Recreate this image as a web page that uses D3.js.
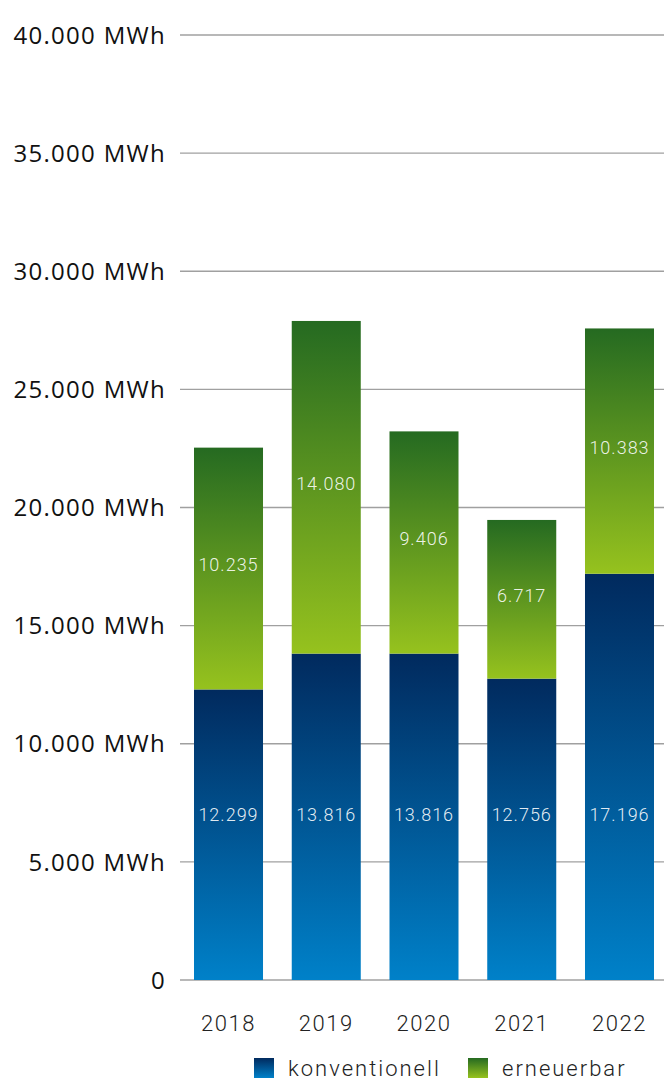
<html>
<head>
<script src="https://d3js.org/d3.v7.min.js"></script>
<style>
  body { margin: 0; background: #fff; }
  .grid line { stroke: #a0a0a0; stroke-width: 1.3px; }
  .ylab { font-family: "Open Sans", sans-serif; font-size: 24px; fill: #111; letter-spacing: 1.3px; }
  .xlab { font-family: Roboto, sans-serif; font-weight: 300; font-size: 22px; fill: #222; letter-spacing: 1.5px; }
  .val { font-family: Roboto, sans-serif; font-weight: 300; font-size: 18px; fill: #fff; fill-opacity: 0.9; letter-spacing: 1px; }
  .leg { font-family: Roboto, sans-serif; font-weight: 300; font-size: 22px; fill: #222; letter-spacing: 2px; }
</style>
</head>
<body>
<svg width="664" height="1080" id="chart"></svg>
<script>
// data
var years = ["2018", "2019", "2020", "2021", "2022"];
var konventionell = [12299, 13816, 13816, 12756, 17196];
var erneuerbar = [10235, 14080, 9406, 6717, 10383];
var yTicks = [0, 5000, 10000, 15000, 20000, 25000, 30000, 35000, 40000];
var seriesNames = ["konventionell", "erneuerbar"];

var svg = d3.select("#chart");
var fmt = d3.formatLocale({decimal: ",", thousands: ".", grouping: [3], currency: ["", ""]}).format(",d");

var y = d3.scaleLinear().domain([0, 40000]).range([980, 35]);
var x = d3.scaleBand().domain(years).range([194, 654]).paddingInner(0.294).paddingOuter(0);

// gradients
var defs = svg.append("defs");
function grad(id, top, bottom) {
  var g = defs.append("linearGradient").attr("id", id)
    .attr("x1", 0).attr("y1", 0).attr("x2", 0).attr("y2", 1);
  g.append("stop").attr("offset", "0%").attr("stop-color", top);
  g.append("stop").attr("offset", "100%").attr("stop-color", bottom);
}
grad("gBlue", "#012a5e", "#0081c9");
grad("gGreen", "#256a21", "#96c21e");

// grid lines
var grid = svg.append("g").attr("class", "grid");
grid.selectAll("line").data(yTicks).enter().append("line")
  .attr("x1", 180).attr("x2", 664)
  .attr("y1", d => y(d)).attr("y2", d => y(d));

svg.selectAll(".ylab").data(yTicks).enter().append("text")
  .attr("class", "ylab")
  .attr("x", 166).attr("y", d => y(d))
  .attr("dy", "0.36em")
  .attr("text-anchor", "end")
  .text(d => d === 0 ? "0" : fmt(d) + " MWh");

var rows = years.map((yr, i) => ({year: yr, k: konventionell[i], e: erneuerbar[i]}));

// konventionell bars
svg.selectAll(".bk").data(rows).enter().append("rect")
  .attr("class", "bk")
  .attr("x", d => x(d.year)).attr("width", x.bandwidth())
  .attr("y", d => y(d.k)).attr("height", d => y(0) - y(d.k))
  .attr("fill", "url(#gBlue)");

// erneuerbar bars
svg.selectAll(".be").data(rows).enter().append("rect")
  .attr("class", "be")
  .attr("x", d => x(d.year)).attr("width", x.bandwidth())
  .attr("y", d => y(d.k + d.e)).attr("height", d => y(d.k) - y(d.k + d.e))
  .attr("fill", "url(#gGreen)");

// value labels
svg.selectAll(".vk").data(rows).enter().append("text")
  .attr("class", "val")
  .attr("x", d => x(d.year) + x.bandwidth() / 2)
  .attr("y", d => y(7000))
  .attr("dy", "0.36em")
  .attr("text-anchor", "middle")
  .text(d => fmt(d.k));

svg.selectAll(".ve").data(rows).enter().append("text")
  .attr("class", "val")
  .attr("x", d => x(d.year) + x.bandwidth() / 2)
  .attr("y", d => (y(d.k) + y(d.k + d.e)) / 2 - 4)
  .attr("dy", "0.36em")
  .attr("text-anchor", "middle")
  .text(d => fmt(d.e));

// x labels
svg.selectAll(".xlab").data(years).enter().append("text")
  .attr("class", "xlab")
  .attr("x", d => x(d) + x.bandwidth() / 2)
  .attr("y", 1023)
  .attr("dy", "0.36em")
  .attr("text-anchor", "middle")
  .text(d => d);

// legend
var legX = [254, 468];
var legFill = ["url(#gBlue)", "url(#gGreen)"];
var leg = svg.selectAll(".legitem").data(seriesNames).enter().append("g")
  .attr("transform", (d, i) => "translate(" + legX[i] + ",1058)");
leg.append("rect").attr("width", 20).attr("height", 20).attr("fill", (d, i) => legFill[i]);
leg.append("text").attr("class", "leg").attr("x", 34).attr("y", 10).attr("dy", "0.36em").text(d => d);
</script>
</body>
</html>
